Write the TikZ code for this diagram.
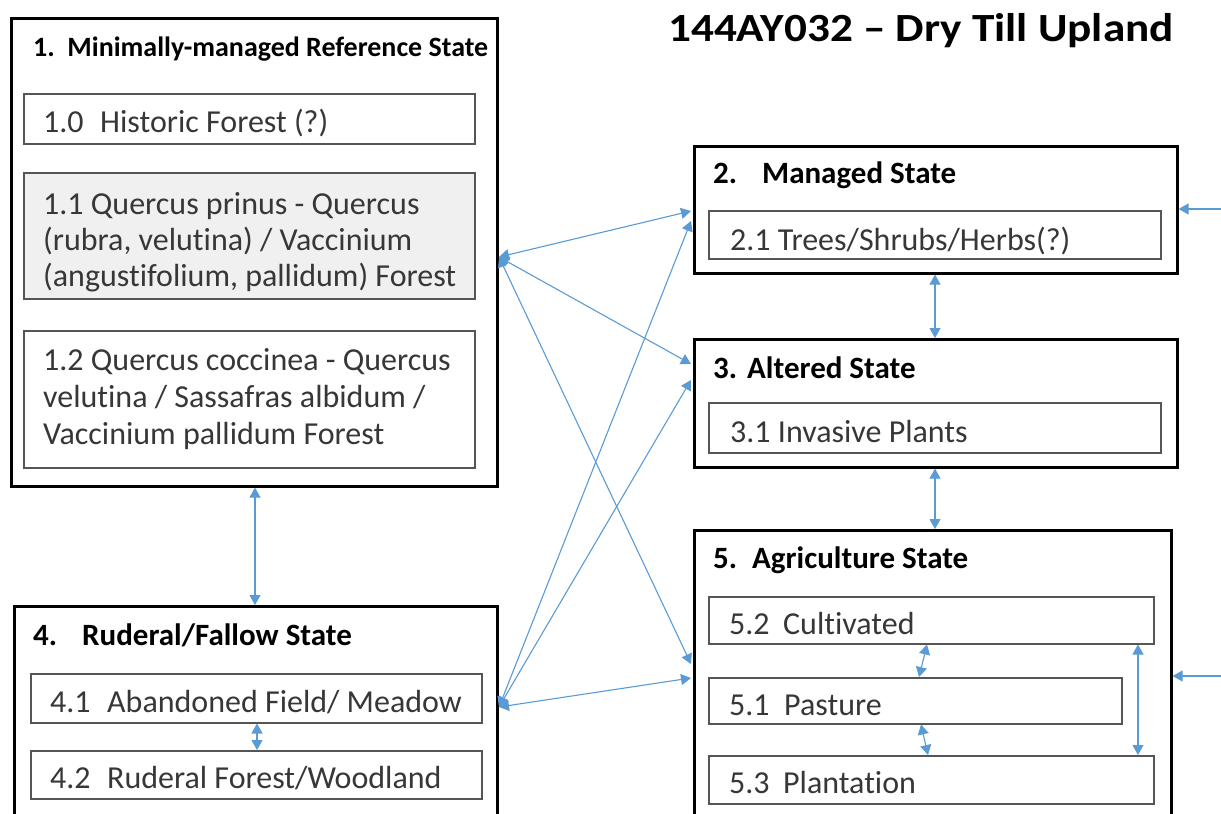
\documentclass[tikz,border=0pt]{standalone}
\usepackage{fontspec}
\setmainfont{Carlito}[Ligatures=NoCommon]
\usetikzlibrary{arrows.meta}
\definecolor{arrowblue}{RGB}{91,155,213}
\definecolor{linkblue}{RGB}{150,192,230}
\definecolor{subgray}{RGB}{85,85,85}
\definecolor{fillgray}{RGB}{240,240,240}
\definecolor{txtgray}{RGB}{55,55,55}
\begin{document}
\begin{tikzpicture}[x=1pt,y=-1pt,
  outer/.style={draw=black,line width=2.6pt,anchor=north west,inner sep=0pt},
  inner/.style={draw=subgray,line width=1.5pt,anchor=north west,inner sep=0pt},
  ttl/.style={anchor=base west,inner sep=0pt,font=\fontsize{31}{36}\selectfont\bfseries},
  txt/.style={anchor=base west,inner sep=0pt,font=\fontsize{32}{36}\selectfont,text=txtgray},
  conn/.style={{Triangle[length=10pt,width=11pt]}-{Triangle[length=10pt,width=11pt]},draw=linkblue,line width=1.1pt,arrowblue},
  oneway/.style={-{Triangle[length=10pt,width=11pt]},draw=linkblue,line width=1.1pt,arrowblue},
]
\useasboundingbox (0,0) rectangle (1221,814);
\fill[white] (0,0) rectangle (1221,814);

% title
\node[anchor=base west,inner sep=0pt] (head) at (668,41) {\scalebox{1.13}[1]{\fontsize{40}{44}\selectfont\bfseries 144AY032 -- Dry Till Upland}};

% box 1
\node[outer,minimum width=486pt,minimum height=468pt] (b1) at (10,17) {};
\node[anchor=base west,inner sep=0pt] (t1) at (33,56) {\resizebox{455pt}{!}{\fontsize{26}{30}\selectfont\bfseries 1.\ \ Minimally-managed Reference State}};
\node[inner,minimum width=451pt,minimum height=50pt] (s10) at (23,93) {};
\node[txt] (s10t) at (43,132) {\makebox[57pt][l]{1.0}Historic Forest (?)};
\node[inner,fill=fillgray,minimum width=451pt,minimum height=126pt] (s11) at (23,172) {};
\node[txt] (s11a) at (43,214) {1.1 Quercus prinus - Quercus};
\node[txt] (s11b) at (43,250) {(rubra, velutina) / Vaccinium};
\node[txt] (s11c) at (43,286) {(angustifolium, pallidum) Forest};
\node[inner,minimum width=451pt,minimum height=137pt] (s12) at (23,330) {};
\node[txt] (s12a) at (43,370) {1.2 Quercus coccinea - Quercus};
\node[txt] (s12b) at (43,407) {velutina / Sassafras albidum /};
\node[txt] (s12c) at (43,444) {Vaccinium pallidum Forest};

% box 4
\node[outer,minimum width=483pt,minimum height=230pt] (b4) at (13,605) {};
\node[ttl] (t4) at (33,645) {\makebox[49pt][l]{4.}Ruderal/Fallow State};
\node[inner,minimum width=451pt,minimum height=49pt] (s41) at (30,673) {};
\node[txt] (s41t) at (50,712) {\makebox[57pt][l]{4.1}Abandoned Field/ Meadow};
\node[inner,minimum width=451pt,minimum height=48pt] (s42) at (30,750) {};
\node[txt] (s42t) at (50,788) {\makebox[57pt][l]{4.2}Ruderal Forest/Woodland};

% box 2
\node[outer,minimum width=483pt,minimum height=127pt] (b2) at (693,145) {};
\node[ttl] (t2) at (713,183) {\makebox[49pt][l]{2.}Managed State};
\node[inner,minimum width=452pt,minimum height=48pt] (s21) at (708,210) {};
\node[txt] (s21t) at (730,250) {2.1 Trees/Shrubs/Herbs(?)};

% box 3
\node[outer,minimum width=483pt,minimum height=128pt] (b3) at (693,338) {};
\node[ttl] (t3) at (713,378) {\makebox[34pt][l]{3.}Altered State};
\node[inner,minimum width=452pt,minimum height=50pt] (s31) at (708,402) {};
\node[txt] (s31t) at (730,442) {3.1 Invasive Plants};

% box 5
\node[outer,minimum width=477pt,minimum height=300pt] (b5) at (693,529) {};
\node[ttl] (t5) at (713,568) {\makebox[39pt][l]{5.}Agriculture State};
\node[inner,minimum width=445pt,minimum height=47pt] (s52) at (708,596) {};
\node[txt] (s52t) at (729,634) {\makebox[54pt][l]{5.2}Cultivated};
\node[inner,minimum width=413pt,minimum height=46pt] (s51) at (708,677) {};
\node[txt] (s51t) at (729,715) {\makebox[55pt][l]{5.1}Pasture};
\node[inner,minimum width=445pt,minimum height=48pt] (s53) at (708,755) {};
\node[txt] (s53t) at (729,793) {\makebox[54pt][l]{5.3}Plantation};

% connector end points
\coordinate (p1) at (499,257);
\coordinate (p4) at (499,707);
\coordinate (q2a) at (691,211);
\coordinate (q2b) at (691,221);
\coordinate (q3a) at (691,364);
\coordinate (q3b) at (691,380);
\coordinate (q5a) at (691,664);
\coordinate (q5b) at (691,678);
\coordinate (r2) at (1221,209);
\coordinate (r5) at (1221,676);

% connectors
\draw[conn] (p1) -- (q2a);
\draw[conn] (p1) -- (q3a);
\draw[conn] (p1) -- (q5a);
\draw[conn] (p4) -- (q2b);
\draw[conn] (p4) -- (q3b);
\draw[conn] (p4) -- (q5b);
\draw[conn] (b1.south -| 255,0) -- (b4.north -| 255,0);
\draw[conn] (s41.south -| 257,0) -- (s42.north -| 257,0);
\draw[conn] (b2.south -| 935,0) -- (b3.north -| 935,0);
\draw[conn] (b3.south -| 935,0) -- (b5.north -| 935,0);
\draw[conn] (s51.north -| 919,0) -- (s52.south -| 927,0);
\draw[conn] (s51.south -| 921,0) -- (s53.north -| 928,0);
\draw[conn] (s52.south -| 1138,0) -- (s53.north -| 1138,0);
\draw[oneway] (r2) -- (b2.east |- r2);
\draw[oneway] (r5) -- (b5.east |- r5);
\end{tikzpicture}
\end{document}
